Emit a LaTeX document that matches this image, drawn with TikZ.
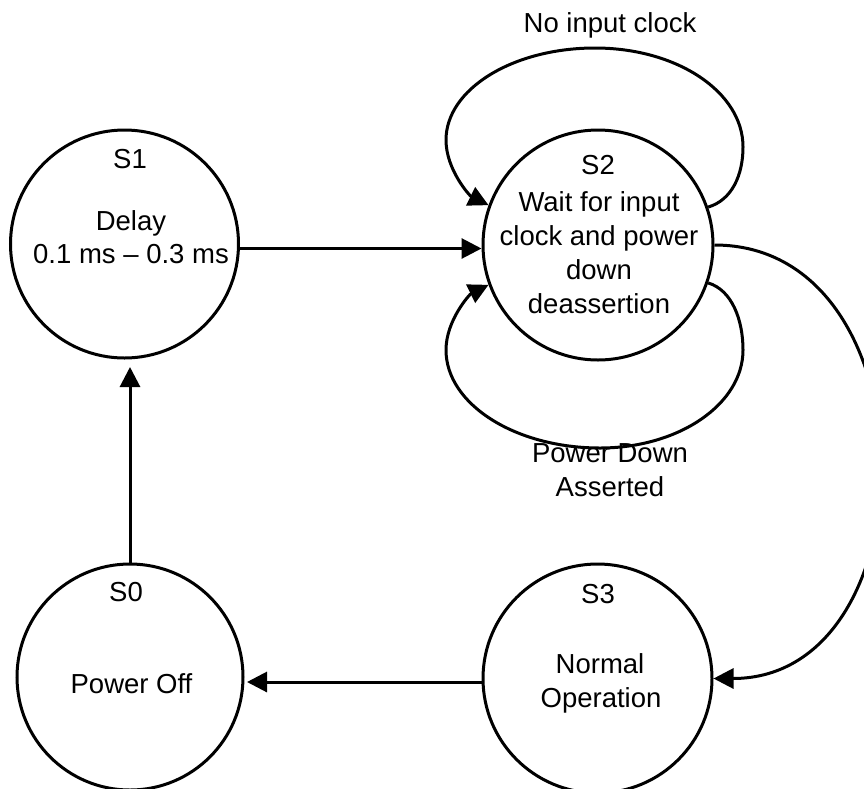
\documentclass[tikz,border=0pt]{standalone}
\usepackage{fontspec}
\setmainfont{Liberation Sans}
\usetikzlibrary{arrows.meta}
\begin{document}
\begin{tikzpicture}[x=1pt,y=1pt,
  state/.style={circle,draw,line width=3pt,inner sep=0pt},
  txt/.style={anchor=base,inner sep=0pt,font=\fontsize{27.5}{33}\selectfont},
  arr/.style={line width=3pt,-{Triangle[length=20pt,width=20pt]}}]
\useasboundingbox (0,0) rectangle (864,-788);
% states
\node[state,minimum size=228pt] (s1) at (124.5,-244) {};
\node[state,minimum size=230pt] (s2) at (598,-245) {};
\node[state,minimum size=226pt] (s0) at (130,-677) {};
\node[state,minimum size=229pt] (s3) at (597.5,-678.5) {};
% texts
\node[txt] (t1a) at (130,-168) {S1};
\node[txt] (t1b) at (131,-230) {Delay};
\node[txt] (t1c) at (131,-263) {0.1 ms – 0.3 ms};
\node[txt] (t2a) at (598,-174) {S2};
\node[txt] (t2b) at (599,-211) {Wait for input};
\node[txt] (t2c) at (599,-245.5) {clock and power};
\node[txt] (t2d) at (599,-279) {down};
\node[txt] (t2e) at (599,-313) {deassertion};
\node[txt] (t0a) at (126,-601) {S0};
\node[txt] (t0b) at (131.5,-693) {Power Off};
\node[txt] (t3a) at (598,-603) {S3};
\node[txt] (t3b) at (600,-673) {Normal};
\node[txt] (t3c) at (601,-707) {Operation};
\node[txt] (l1) at (610,-32) {No input clock};
\node[txt] (l2a) at (610,-462) {Power Down};
\node[txt] (l2b) at (610,-496) {Asserted};
% connectors
\draw[arr,shorten >=7.5pt] (s0.north) -- (s0.north |- s1.south);
\draw[arr] ([yshift=-4.5pt]s1.east) -- ([yshift=-4.5pt]s1.east -| s2.west);
\draw[arr,shorten >=2.5pt] ([yshift=-3.5pt]s3.west) -- ([yshift=-3.5pt]s3.west -| s0.east);
\draw[arr] (s2.east) to[out=0,in=0,distance=220pt] (s3.east);
\draw[arr] (s2.19) .. controls (732,-200) and (743,-175) .. (743,-147)
  .. controls (743,-92) and (677,-48) .. (595,-48)
  .. controls (513,-48) and (446,-89) .. (446,-140)
  .. controls (446,-170) and (470,-196) .. (s2.160);
\draw[arr] (s2.-19) .. controls (732,-290) and (743,-320) .. (743,-350)
  .. controls (743,-404) and (679,-448) .. (600,-448)
  .. controls (515,-448) and (446,-404) .. (446,-350)
  .. controls (446,-320) and (470,-294) .. (s2.-160);
\end{tikzpicture}
\end{document}
